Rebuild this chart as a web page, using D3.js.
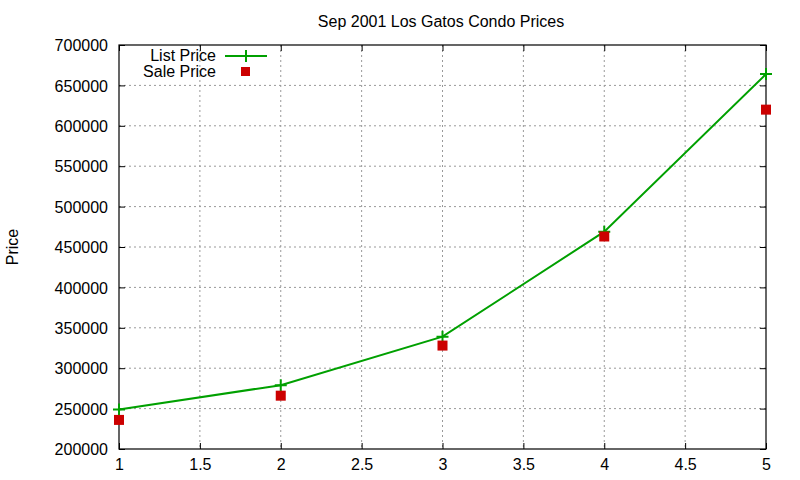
<!DOCTYPE html>
<html>
<head>
<meta charset="utf-8">
<script src="https://cdn.jsdelivr.net/npm/d3@7"></script>
<style>
  body { margin: 0; background: #fff; }
  text { font-family: "Liberation Sans", Arial, sans-serif; fill: #000; }
</style>
</head>
<body>
<div id="chart"></div>
<script>
(function(){
  // Data
  const months = [1, 2, 3, 4, 5];
  const listPrice = [249000, 279000, 339000, 469000, 664000];
  const salePrice = [236000, 266000, 328000, 463000, 620000];
  const xTicks = [1, 1.5, 2, 2.5, 3, 3.5, 4, 4.5, 5];
  const yTicks = [200000, 250000, 300000, 350000, 400000, 450000, 500000, 550000, 600000, 650000, 700000];

  const width = 800, height = 480;
  const margin = { top: 45, right: 34, bottom: 31, left: 119 };
  const w = width - margin.left - margin.right;
  const h = height - margin.top - margin.bottom;

  const x = d3.scaleLinear().domain([1, 5]).range([0, w]);
  const y = d3.scaleLinear().domain([200000, 700000]).range([h, 0]);

  const svg = d3.select("#chart").append("svg")
    .attr("width", width)
    .attr("height", height);

  const g = svg.append("g")
    .attr("transform", `translate(${margin.left},${margin.top})`);

  // grid
  g.selectAll(".gx").data(xTicks.slice(1, -1)).enter().append("line")
    .attr("x1", d => x(d)).attr("x2", d => x(d))
    .attr("y1", 0).attr("y2", h)
    .attr("stroke", "#999").attr("stroke-dasharray", "2,3");
  g.selectAll(".gy").data(yTicks.slice(1, -1)).enter().append("line")
    .attr("x1", 0).attr("x2", w)
    .attr("y1", d => y(d)).attr("y2", d => y(d))
    .attr("stroke", "#999").attr("stroke-dasharray", "2,3");

  // axes, ticks pointing inward (mirrored)
  const fontSize = "16px";
  const left = g.append("g").call(d3.axisLeft(y).tickValues(yTicks).tickSizeInner(-6).tickSizeOuter(0).tickPadding(11).tickFormat(d3.format("d")));
  const right = g.append("g").attr("transform", `translate(${w},0)`)
    .call(d3.axisRight(y).tickValues(yTicks).tickSizeInner(-6).tickSizeOuter(0).tickFormat(""));
  const bottom = g.append("g").attr("transform", `translate(0,${h})`)
    .call(d3.axisBottom(x).tickValues(xTicks).tickSizeInner(-6).tickSizeOuter(0).tickPadding(10).tickFormat(d3.format("")));
  const top = g.append("g")
    .call(d3.axisTop(x).tickValues(xTicks).tickSizeInner(-6).tickSizeOuter(0).tickFormat(""));
  [left, right, bottom, top].forEach(a => {
    a.select(".domain").remove();
    a.selectAll("line").attr("stroke", "#000");
    a.selectAll("text").style("font-size", fontSize).attr("fill", "#000").style("font-family", "Liberation Sans, Arial, sans-serif");
  });
  left.selectAll("text").attr("dy", "0.35em");
  bottom.selectAll("text").attr("dy", "0.71em");

  g.append("rect")
    .attr("width", w).attr("height", h)
    .attr("fill", "none").attr("stroke", "#000").attr("stroke-width", 1.2);

  // list price line
  const listPts = months.map((m, i) => [m, listPrice[i]]);
  g.append("path")
    .datum(listPts)
    .attr("fill", "none")
    .attr("stroke", "#00a000")
    .attr("stroke-width", 2)
    .attr("d", d3.line().x(d => x(d[0])).y(d => y(d[1])));

  function plusPath(cx, cy, s) {
    return `M${cx - s},${cy}H${cx + s}M${cx},${cy - s}V${cy + s}`;
  }
  g.selectAll(".lp").data(listPts).enter().append("path")
    .attr("d", d => plusPath(x(d[0]), y(d[1]), 6))
    .attr("stroke", "#00a000").attr("stroke-width", 2).attr("fill", "none");

  // sale price squares
  g.selectAll(".sp").data(months).enter().append("rect")
    .attr("x", (d, i) => x(d) - 5)
    .attr("y", (d, i) => y(salePrice[i]) - 5)
    .attr("width", 10).attr("height", 10)
    .attr("fill", "#cc0000");

  // legend
  const lg = svg.append("g");
  lg.append("text").attr("x", 216).attr("y", 55).attr("dy", "0.35em")
    .attr("text-anchor", "end").style("font-size", fontSize).text("List Price");
  lg.append("line").attr("x1", 225).attr("x2", 267).attr("y1", 56).attr("y2", 56)
    .attr("stroke", "#00a000").attr("stroke-width", 2);
  lg.append("path").attr("d", plusPath(246, 56, 6))
    .attr("stroke", "#00a000").attr("stroke-width", 2);
  lg.append("text").attr("x", 216).attr("y", 71).attr("dy", "0.35em")
    .attr("text-anchor", "end").style("font-size", fontSize).text("Sale Price");
  lg.append("rect").attr("x", 241).attr("y", 67).attr("width", 9).attr("height", 9)
    .attr("fill", "#cc0000");

  // title and y label
  svg.append("text").attr("x", 441).attr("y", 21).attr("dy", "0.35em")
    .attr("text-anchor", "middle").style("font-size", fontSize)
    .text("Sep 2001 Los Gatos Condo Prices");
  svg.append("text")
    .attr("transform", "translate(12,247) rotate(-90)")
    .attr("dy", "0.35em")
    .attr("text-anchor", "middle").style("font-size", fontSize)
    .text("Price");
})();
</script>
</body>
</html>
